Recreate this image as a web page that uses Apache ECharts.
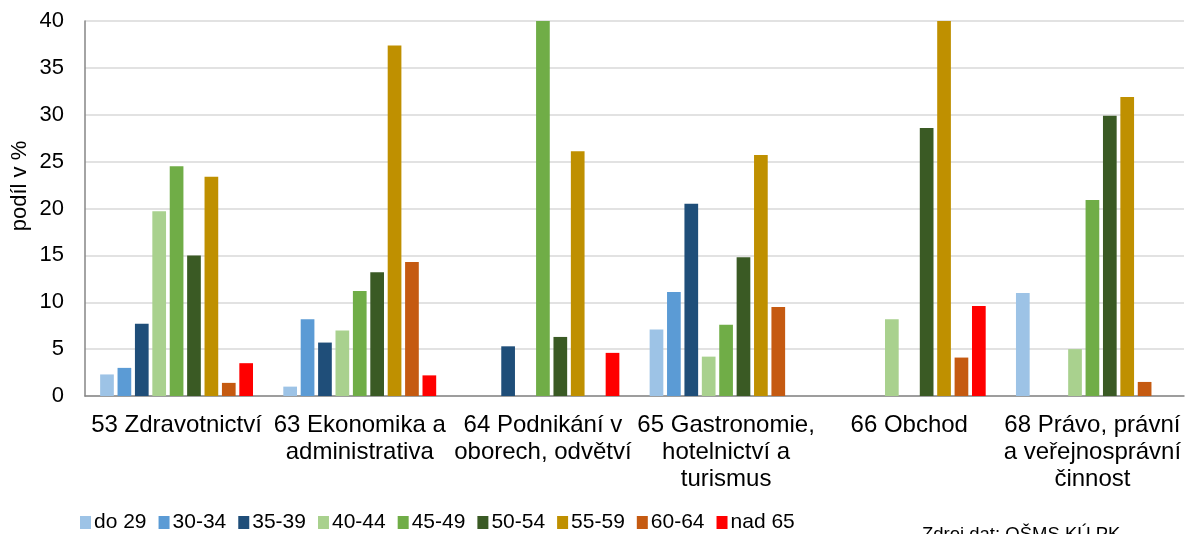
<!DOCTYPE html>
<html>
<head>
<meta charset="utf-8">
<script src="https://cdn.jsdelivr.net/npm/echarts@6/dist/echarts.min.js"></script>
<style>
html,body{margin:0;padding:0;background:#fff;}
#c{width:1186px;height:534px;}
</style>
</head>
<body>
<div id="c"></div>
<script>
const categories = [
  "53 Zdravotnictví",
  "63 Ekonomika a\nadministrativa",
  "64 Podnikání v\noborech, odvětví",
  "65 Gastronomie,\nhotelnictví a\nturismus",
  "66 Obchod",
  "68 Právo, právní\na veřejnosprávní\nčinnost"
];
const seriesNames = ["do 29","30-34","35-39","40-44","45-49","50-54","55-59","60-64","nad 65"];
const do29   = [2.3, 1.0, null, 7.1, null, 11.0];
const v30_34 = [3.0, 8.2, null, 11.1, null, null];
const v35_39 = [7.7, 5.7, 5.3, 20.5, null, null];
const v40_44 = [19.7, 7.0, null, 4.2, 8.2, 5.0];
const v45_49 = [24.5, 11.2, 40.0, 7.6, null, 20.9];
const v50_54 = [15.0, 13.2, 6.3, 14.8, 28.6, 29.9];
const v55_59 = [23.4, 37.4, 26.1, 25.7, 40.0, 31.9];
const v60_64 = [1.4, 14.3, null, 9.5, 4.1, 1.5];
const nad65  = [3.5, 2.2, 4.6, null, 9.6, null];
const yTicks = [0, 5, 10, 15, 20, 25, 30, 35, 40];
const colors = ["#9DC3E6","#5B9BD5","#1F4E79","#A9D18E","#70AD47","#3A5A24","#BF9000","#C55A11","#FF0000"];
const allData = [do29, v30_34, v35_39, v40_44, v45_49, v50_54, v55_59, v60_64, nad65];

const FONT = "'Liberation Sans', Arial, sans-serif";
const chart = echarts.init(document.getElementById('c'), null, {renderer:'canvas'});
chart.setOption({
  animation: false,
  color: colors,
  grid: {left: 85, right: 2, top: 21, bottom: 138, containLabel: false},
  legend: {
    left: 75, top: 507,
    itemWidth: 11, itemHeight: 13, itemGap: 12,
    icon: 'rect',
    textStyle: {fontFamily: FONT, fontSize: 21, color: '#000', padding: [0,0,0,-2]},
    data: seriesNames
  },
  xAxis: {
    type: 'category',
    data: categories,
    axisLine: {show: true, lineStyle: {color: '#868686', width: 1.5}},
    axisTick: {show: false},
    axisLabel: {interval: 0, margin: 16, fontFamily: FONT, fontSize: 24, lineHeight: 27, color: '#000'}
  },
  yAxis: {
    type: 'value',
    min: yTicks[0], max: yTicks[yTicks.length-1], interval: 5,
    axisLine: {show: true, lineStyle: {color: '#868686', width: 1.5}},
    axisTick: {show: false},
    splitLine: {show: true, lineStyle: {color: '#d9d9d9', width: 1.5}},
    axisLabel: {margin: 21, fontFamily: FONT, fontSize: 22, color: '#000'}
  },
  graphic: [
    {type: 'text', x: 20, y: 186, rotation: Math.PI/2,
     style: {text: 'podíl v %', font: "22px 'Liberation Sans', Arial, sans-serif", fill: '#000',
             textAlign: 'center', textVerticalAlign: 'middle'}},
    {type: 'text', x: 922, y: 525,
     style: {text: 'Zdroj dat: OŠMS KÚ PK', font: "18.5px 'Liberation Sans', Arial, sans-serif", fill: '#000',
             textAlign: 'left', textVerticalAlign: 'top'}}
  ],
  series: seriesNames.map((n, i) => ({
    name: n,
    type: 'bar',
    data: allData[i],
    barWidth: 13.7,
    barGap: '27%',
    itemStyle: {color: colors[i]}
  }))
});
</script>
</body>
</html>
